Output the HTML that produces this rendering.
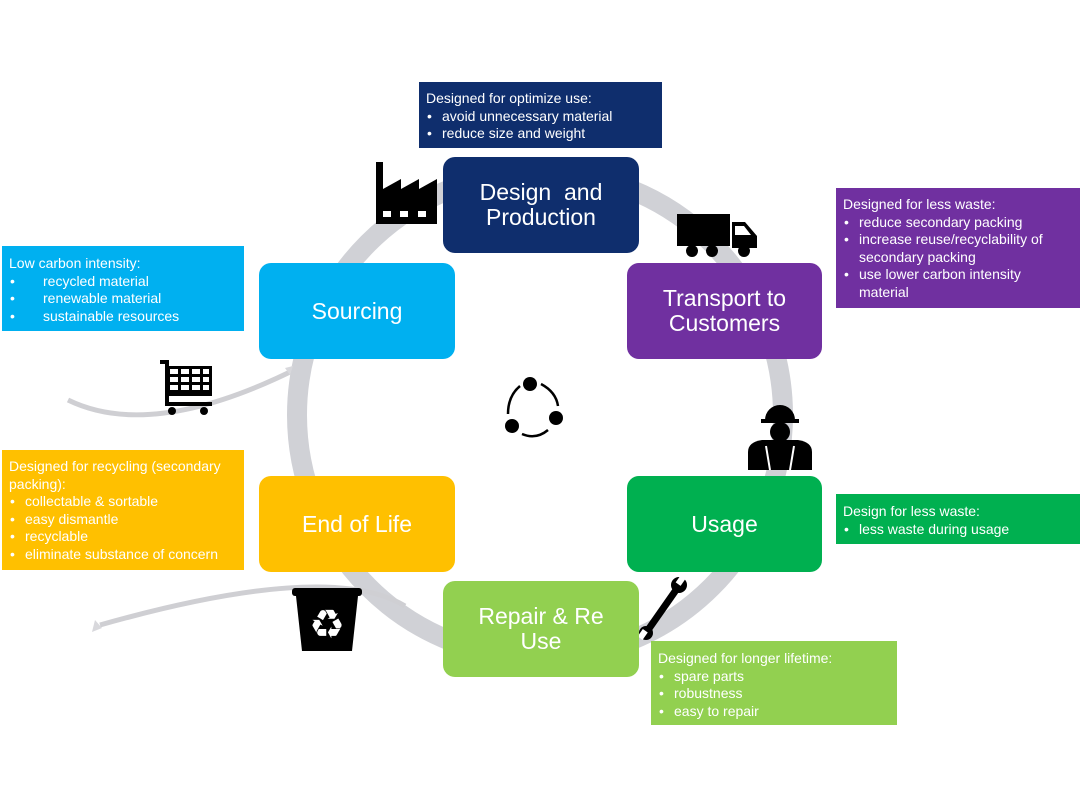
<!DOCTYPE html>
<html><head><meta charset="utf-8"><style>
body{margin:0;width:1080px;height:810px;background:#fff;overflow:hidden;font-family:"Liberation Sans",Arial,sans-serif}
svg{position:absolute;left:0;top:0}
.b{position:absolute;border-radius:12px;color:#fff;font-size:23px;display:flex;align-items:center;justify-content:center;text-align:center;line-height:25px}
.i{position:absolute;color:#fff;font-size:14px;line-height:17.5px;padding:8px 7px;box-sizing:border-box}
.i ul{margin:0;padding:0;list-style:none}
.i li{padding-left:16px;position:relative}
.i li:before{content:"•";position:absolute;left:1px}
</style></head><body>
<svg width="1080" height="810">
<circle cx="540" cy="415" r="243" fill="none" stroke="#d0d1d6" stroke-width="20"/>
<path d="M68,400 Q150,440 290,372" fill="none" stroke="#cfcfd3" stroke-width="5"/>
<path d="M285,368 l8,-2 l-3,9z" fill="#d8d8dc"/>
<path d="M405,606 Q330,560 100,625" fill="none" stroke="#cfcfd3" stroke-width="5"/>
<path d="M92,632 l3,-12 l7,8z" fill="#d8d8dc"/>
<path d="M376,224 V162 h7 v27 l18,-10 v10 l18,-10 v10 l18,-10 v45z" fill="#000"/>
<rect x="383" y="211" width="8" height="6" fill="#fff"/><rect x="400" y="211" width="8" height="6" fill="#fff"/><rect x="418" y="211" width="8" height="6" fill="#fff"/>
<rect x="677" y="214" width="53" height="32" fill="#000"/>
<path d="M732,222 h13 l12,14 v12 h-25z" fill="#000"/>
<path d="M735,226 h9 l7,9 h-16z" fill="#fff"/>
<circle cx="692" cy="251" r="6" fill="#000"/><circle cx="712" cy="251" r="6" fill="#000"/><circle cx="744" cy="251" r="6" fill="#000"/>
<path d="M160,362 h7 v42 h45" fill="none" stroke="#000" stroke-width="4"/>
<rect x="167" y="366" width="45" height="30" fill="#000"/>
<g fill="#fff"><rect x="170" y="369" width="8" height="5"/><rect x="181" y="369" width="8" height="5"/><rect x="192" y="369" width="8" height="5"/><rect x="203" y="369" width="6" height="5"/>
<rect x="170" y="377" width="8" height="5"/><rect x="181" y="377" width="8" height="5"/><rect x="192" y="377" width="8" height="5"/><rect x="203" y="377" width="6" height="5"/>
<rect x="170" y="385" width="8" height="5"/><rect x="181" y="385" width="8" height="5"/><rect x="192" y="385" width="8" height="5"/><rect x="203" y="385" width="6" height="5"/></g>
<circle cx="172" cy="411" r="4" fill="#000"/><circle cx="204" cy="411" r="4" fill="#000"/>
<path d="M765,420 a15,15 0 0 1 30,0z" fill="#000"/><rect x="761" y="419" width="38" height="4" fill="#000"/>
<circle cx="780" cy="432" r="10" fill="#000"/>
<path d="M748,470 v-18 q0,-10 14,-12 h36 q14,2 14,12 v18z" fill="#000"/>
<path d="M766,446 l4,24 M794,446 l-4,24" stroke="#fff" stroke-width="2"/>
<g fill="#000"><circle cx="530" cy="384" r="7"/><circle cx="512" cy="426" r="7"/><circle cx="556" cy="418" r="7"/></g>
<g fill="none" stroke="#000" stroke-width="2.5"><path d="M520,386 Q508,396 508,414"/><path d="M522,434 Q536,440 548,430"/><path d="M541,384 Q556,392 558,406"/></g>
<rect x="292" y="588" width="70" height="8" rx="3" fill="#000"/>
<path d="M296,596 h62 l-6,55 h-50z" fill="#000"/>
<text x="327" y="638" font-size="40" fill="#fff" text-anchor="middle" font-family="DejaVu Sans">♻</text>
<path d="M648,630 L676,590" stroke="#000" stroke-width="7"/>
<circle cx="679" cy="585" r="8" fill="#000"/><circle cx="646" cy="633" r="7" fill="#000"/>
<rect x="678" y="576" width="6" height="9" fill="#fff" transform="rotate(35 681 580)"/>
<rect x="640" y="630" width="6" height="9" fill="#fff" transform="rotate(35 643 634)"/>
</svg>

<div class="b" style="left:443px;top:157px;width:196px;height:96px;background:#0f2e6d">Design &nbsp;and<br>Production</div>
<div class="b" style="left:627px;top:263px;width:195px;height:96px;background:#7030a0">Transport to<br>Customers</div>
<div class="b" style="left:259px;top:263px;width:196px;height:96px;background:#00b0f0">Sourcing</div>
<div class="b" style="left:627px;top:476px;width:195px;height:96px;background:#00b050">Usage</div>
<div class="b" style="left:259px;top:476px;width:196px;height:96px;background:#ffc000">End of Life</div>
<div class="b" style="left:443px;top:581px;width:196px;height:96px;background:#92d050">Repair &amp; Re<br>Use</div>

<div class="i" style="left:419px;top:82px;width:243px;height:66px;background:#0f2e6d">Designed for optimize use:<ul><li>avoid unnecessary material</li><li>reduce size and weight</li></ul></div>
<div class="i" style="left:836px;top:188px;width:244px;height:120px;background:#7030a0">Designed for less waste:<ul><li>reduce secondary packing</li><li>increase reuse/recyclability of secondary packing</li><li>use lower carbon intensity material</li></ul></div>
<div class="i" style="left:2px;top:246px;width:242px;height:85px;background:#00b0f0;padding-top:9px">Low carbon intensity:<ul><li style="padding-left:34px">recycled material</li><li style="padding-left:34px">renewable material</li><li style="padding-left:34px">sustainable resources</li></ul></div>
<div class="i" style="left:836px;top:494px;width:244px;height:50px;background:#00b050;padding-top:9px">Design for less waste:<ul><li>less waste during usage</li></ul></div>
<div class="i" style="left:2px;top:450px;width:242px;height:120px;background:#ffc000;padding-top:8px">Designed for recycling (secondary packing):<ul><li>collectable &amp; sortable</li><li>easy dismantle</li><li>recyclable</li><li>eliminate substance of concern</li></ul></div>
<div class="i" style="left:651px;top:641px;width:246px;height:84px;background:#92d050;padding-top:9px">Designed for longer lifetime:<ul><li>spare parts</li><li>robustness</li><li>easy to repair</li></ul></div>
</body></html>
